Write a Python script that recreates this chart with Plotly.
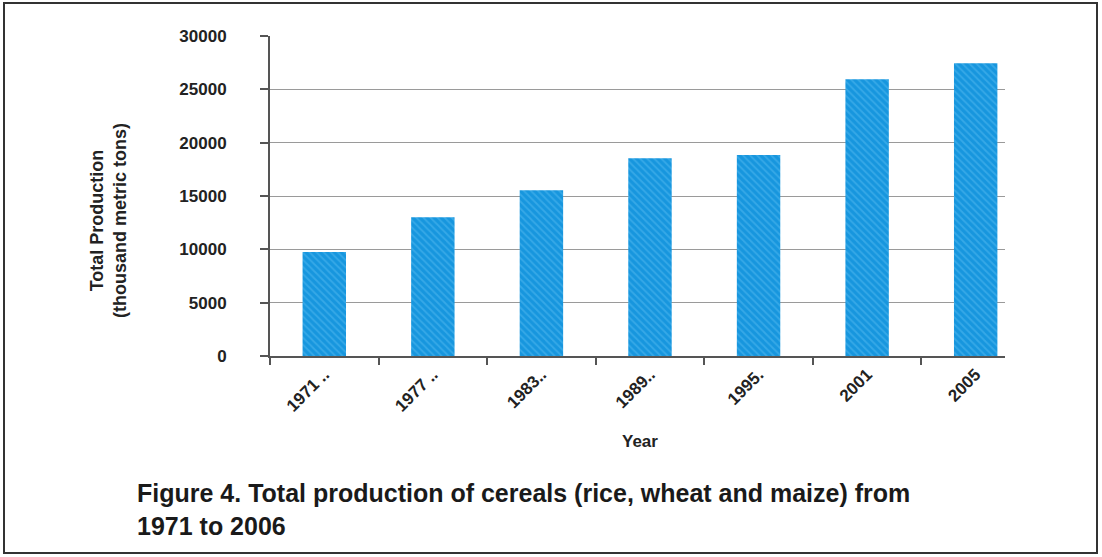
import plotly.graph_objects as go

years = ["1971 ..", "1977 ..", "1983..", "1989..", "1995.", "2001", "2005"]
production = [9750, 13000, 15550, 18550, 18850, 25950, 27450]
y_ticks = [0, 5000, 10000, 15000, 20000, 25000, 30000]
y_tick_labels = [str(v) for v in y_ticks]

FONT = "Liberation Sans, Arial, sans-serif"
W, H = 1102, 557
L, T = 270, 36
PW, PH = 735, 320
R, B = W - L - PW, H - T - PH


def px_x(x):
    return (x - L) / PW


def px_y(y):
    return (T + PH - y) / PH


fig = go.Figure()
fig.add_trace(go.Bar(
    x=years,
    y=production,
    width=0.4,
    marker=dict(
        color="#1a97dd",
        line=dict(width=0),
        pattern=dict(shape="\\", fgcolor="#55baf0", bgcolor="#1796de",
                     size=5, solidity=0.35),
    ),
))

fig.update_layout(
    width=W, height=H,
    margin=dict(l=L, r=R, t=T, b=B),
    paper_bgcolor="white", plot_bgcolor="white",
    showlegend=False,
    font=dict(family=FONT, color="#222"),
    xaxis=dict(
        type="category",
        range=[-0.5, 6.27],
        automargin=False,
        tickson="boundaries",
        ticks="outside", ticklen=7, tickwidth=2, tickcolor="#555",
        showline=True, linecolor="#555", linewidth=2,
        tickangle=-45,
        tickfont=dict(size=17, family=FONT, weight="bold", color="#222"),
        showgrid=False,
    ),
    yaxis=dict(
        range=[0, 30000],
        automargin=False,
        tickvals=y_ticks,
        ticktext=y_tick_labels,
        ticks="outside", ticklen=8, tickwidth=2, tickcolor="#555",
        ticklabelstandoff=30,
        showline=True, linecolor="#555", linewidth=2,
        showgrid=True, gridcolor="#9a9a9a", gridwidth=1,
        zeroline=False,
        tickfont=dict(size=17, family=FONT, weight="bold", color="#222"),
    ),
)

# y-axis title
fig.add_annotation(
    xref="paper", yref="paper", x=px_x(108), y=px_y(221),
    xanchor="center", yanchor="middle", showarrow=False, textangle=-90,
    text="Total Production<br>(thousand metric tons)",
    font=dict(size=18, family=FONT, weight="bold", color="#222"),
)

# x-axis title
fig.add_annotation(
    xref="paper", yref="paper", x=px_x(640), y=px_y(441),
    xanchor="center", yanchor="middle", showarrow=False,
    text="Year",
    font=dict(size=17, family=FONT, weight="bold", color="#222"),
)

# caption
fig.add_annotation(
    xref="paper", yref="paper", x=px_x(135), y=px_y(509),
    xanchor="left", yanchor="middle", align="left", showarrow=False,
    text="Figure 4. Total production of cereals (rice, wheat and maize) from<br>1971 to 2006",
    font=dict(size=25, family=FONT, weight="bold", color="#1a1a1a"),
)

fig.add_shape(type="rect", xref="paper", yref="paper",
              x0=px_x(4), x1=px_x(1097), y0=px_y(553), y1=px_y(3),
              line=dict(color="#333", width=2), fillcolor="rgba(0,0,0,0)")

fig.write_html(
    "out.html",
    config={"displayModeBar": False},
    post_script="document.body.style.margin='0';document.body.style.padding='0';",
)
